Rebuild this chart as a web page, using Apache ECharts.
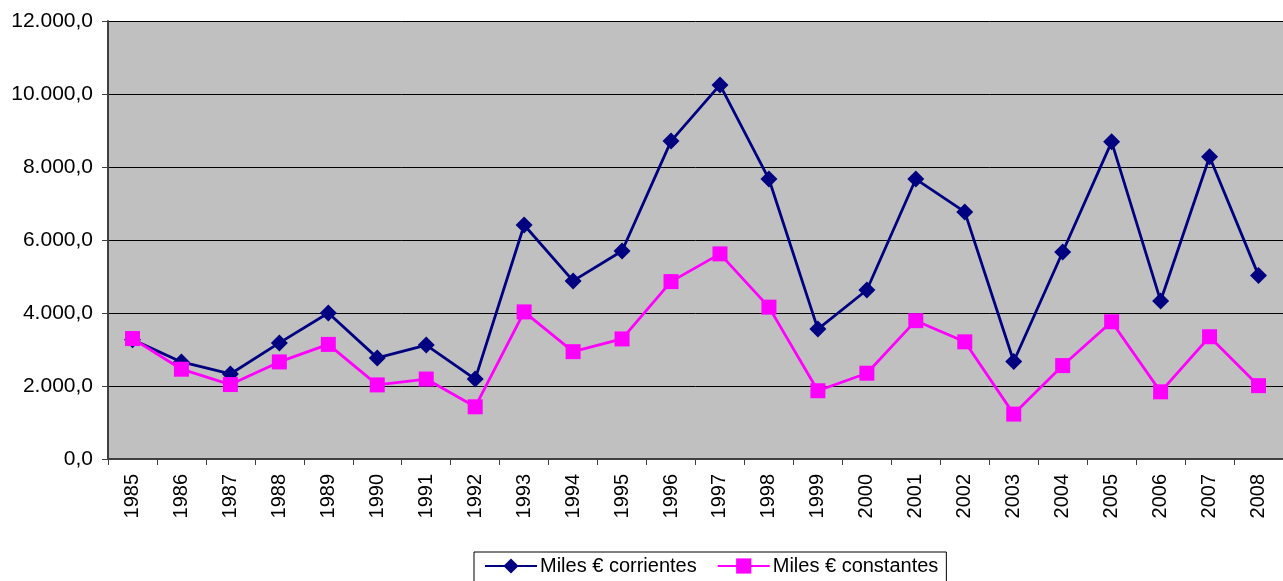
<!DOCTYPE html>
<html>
<head>
<meta charset="utf-8">
<script src="https://cdn.jsdelivr.net/npm/echarts@6/dist/echarts.min.js"></script>
<style>
  html, body { margin: 0; padding: 0; background: #fff; }
  #main { width: 1283px; height: 581px; }
</style>
</head>
<body>
<div id="main"></div>
<script>
var years = ['1985', '1986', '1987', '1988', '1989', '1990', '1991', '1992', '1993', '1994', '1995', '1996',
    '1997', '1998', '1999', '2000', '2001', '2002', '2003', '2004', '2005', '2006', '2007', '2008'];
var corrientes = [3270, 2660, 2330, 3180, 4000, 2770, 3120, 2190, 6410, 4880, 5700, 8710,
    10250, 7670, 3560, 4630, 7670, 6770, 2670, 5670, 8690, 4330, 8280, 5030];
var constantes = [3300, 2460, 2040, 2660, 3140, 2030, 2190, 1430, 4030, 2940, 3290, 4860,
    5620, 4160, 1870, 2350, 3790, 3210, 1230, 2560, 3760, 1840, 3350, 2010];

var font = '"Liberation Sans", Arial, sans-serif';

// 12000 -> "12.000,0"
function fmt(v) {
    var s = String(Math.round(v));
    s = s.replace(/\B(?=(\d{3})+(?!\d))/g, '.');
    return s + ',0';
}

var chart = echarts.init(document.getElementById('main'));
var option = {
    animation: false,
    grid: {
        left: 108,
        right: 0,
        top: 21,
        bottom: 122,
        show: true,
        backgroundColor: '#c0c0c0',
        borderWidth: 0
    },
    legend: {
        left: 474,
        top: 552,
        padding: [4, 8, 8, 10],
        itemWidth: 52,
        itemHeight: 19,
        itemGap: 20,
        backgroundColor: '#fff',
        borderColor: '#000',
        borderWidth: 1,
        borderRadius: 0,
        textStyle: {
            fontFamily: font,
            fontSize: 20,
            color: '#000',
            padding: [0, 0, 0, -2]
        },
        data: ['Miles € corrientes', 'Miles € constantes']
    },
    xAxis: {
        type: 'category',
        data: years,
        boundaryGap: true,
        axisLine: { lineStyle: { color: '#404040', width: 2 } },
        axisTick: { show: true, interval: 0, length: 6, lineStyle: { color: '#404040', width: 1 } },
        axisLabel: {
            interval: 0,
            rotate: 90,
            margin: 15,
            fontFamily: font,
            fontSize: 20,
            color: '#000'
        }
    },
    yAxis: {
        type: 'value',
        min: 0,
        max: 12000,
        interval: 2000,
        axisLine: { show: true, lineStyle: { color: '#404040', width: 2 } },
        axisTick: { show: true, length: 6, lineStyle: { color: '#404040', width: 1 } },
        splitLine: { show: true, lineStyle: { color: '#000', width: 1 } },
        axisLabel: {
            margin: 15,
            fontFamily: font,
            fontSize: 21,
            color: '#000',
            formatter: fmt
        }
    },
    series: [
        {
            name: 'Miles € corrientes',
            type: 'line',
            data: corrientes,
            symbol: 'diamond',
            symbolSize: [17, 17],
            lineStyle: { color: '#000080', width: 2.8 },
            itemStyle: { color: '#000080' },
            z: 3
        },
        {
            name: 'Miles € constantes',
            type: 'line',
            data: constantes,
            symbol: 'rect',
            symbolSize: 15,
            lineStyle: { color: '#ff00ff', width: 2.8 },
            itemStyle: { color: '#ff00ff' },
            z: 4
        }
    ]
};
chart.setOption(option);
</script>
</body>
</html>
